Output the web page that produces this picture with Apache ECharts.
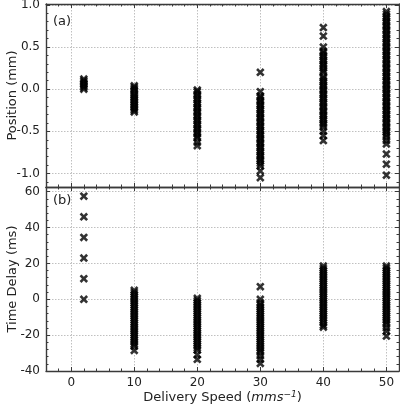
<!DOCTYPE html>
<html>
<head>
<meta charset="utf-8">
<script src="https://cdn.jsdelivr.net/npm/echarts@6/dist/echarts.min.js"></script>
<style>html,body{margin:0;padding:0;background:#fff}#c{width:400px;height:408px}</style>
</head>
<body>
<div id="c"></div>
<script>
// ---- data ----
const speeds = [2, 10, 20, 30, 40, 50];
// Position (mm), panel (a)
const pos2  = [0.0, 0.02, 0.04, 0.06, 0.08, 0.10, 0.12];
const pos10 = [0.04, 0.02, 0.0, -0.02, -0.05, -0.07, -0.09, -0.11, -0.13, -0.15, -0.17, -0.19, -0.21, -0.23, -0.25, -0.27];
const pos20 = [-0.01, -0.03, -0.06, -0.08, -0.11, -0.13, -0.16, -0.18, -0.21, -0.23, -0.26, -0.28, -0.31, -0.33, -0.36, -0.38, -0.41, -0.43, -0.46, -0.48, -0.51, -0.53, -0.56, -0.58, -0.63, -0.67];
const pos30 = [0.20, -0.03, -0.08, -0.10, -0.13, -0.15, -0.18, -0.20, -0.23, -0.25, -0.28, -0.30, -0.33, -0.35, -0.38, -0.40, -0.43, -0.45, -0.48, -0.50, -0.53, -0.55, -0.58, -0.60, -0.63, -0.65, -0.68, -0.70, -0.73, -0.75, -0.78, -0.80, -0.83, -0.85, -0.88, -0.91, -0.97, -1.05];
const pos40 = [0.73, 0.63, 0.50, 0.45, 0.43, 0.40, 0.38, 0.35, 0.33, 0.30, 0.28, 0.25, 0.22, 0.20, 0.15, 0.13, 0.10, 0.08, 0.05, 0.03, 0.0, -0.02, -0.05, -0.07, -0.10, -0.12, -0.15, -0.17, -0.20, -0.22, -0.25, -0.27, -0.30, -0.32, -0.35, -0.37, -0.40, -0.42, -0.45, -0.50, -0.55, -0.61];
const pos50 = [0.92, 0.89, 0.86, 0.84, 0.81, 0.79, 0.76, 0.74, 0.71, 0.69, 0.66, 0.64, 0.61, 0.59, 0.56, 0.54, 0.51, 0.49, 0.46, 0.44, 0.41, 0.39, 0.36, 0.34, 0.31, 0.29, 0.26, 0.24, 0.21, 0.19, 0.16, 0.14, 0.11, 0.09, 0.06, 0.04, 0.01, -0.01, -0.04, -0.06, -0.09, -0.11, -0.14, -0.16, -0.19, -0.21, -0.24, -0.26, -0.29, -0.31, -0.34, -0.36, -0.39, -0.41, -0.44, -0.46, -0.49, -0.51, -0.54, -0.57, -0.61, -0.65, -0.77, -0.89, -1.02];
// Time delay (ms), panel (b)
const td2  = [0, 11.5, 23, 34.5, 46, 57.5];
const td10 = [5, 3.8, 2.6, 1.4, 0.2, -1, -2.2, -3.4, -4.6, -5.8, -7, -8.2, -9.4, -10.6, -11.8, -13, -14.2, -15.4, -16.6, -17.8, -19, -20.2, -21.4, -22.6, -23.8, -25, -26.2, -28.5];
const td20 = [0.5, -0.7, -1.9, -3.1, -4.3, -5.5, -6.7, -7.9, -9.1, -10.3, -11.5, -12.7, -13.9, -15.1, -16.3, -17.5, -18.7, -19.9, -21.1, -22.3, -23.5, -24.7, -25.9, -27.1, -28.3, -31, -33.5];
const td30 = [7, 0, -2, -3.2, -4.4, -5.6, -6.8, -8, -9.2, -10.4, -11.6, -12.8, -14, -15.2, -16.4, -17.6, -18.8, -20, -21.2, -22.4, -23.6, -24.8, -26, -27.2, -28.4, -29.6, -31.5, -33.5, -35.8];
const td40 = [18.5, 17.2, 16, 14.8, 13.6, 12.4, 11.2, 10, 8.8, 7.6, 6.4, 5.2, 4, 2.8, 1.6, 0.4, -0.8, -2, -3.2, -4.4, -5.6, -6.8, -8, -9.2, -10.4, -11.6, -13, -14.5, -15.6];
const td50 = [18.5, 17.3, 16.1, 14.9, 13.7, 12.5, 11.3, 10.1, 8.9, 7.7, 6.5, 5.3, 4.1, 2.9, 1.7, 0.5, -0.7, -1.9, -3.1, -4.3, -5.5, -6.7, -7.9, -9.1, -10.3, -11.5, -12.7, -14, -16, -17.8, -20.5];

// ---- ticks ----
const xTicks = [0, 10, 20, 30, 40, 50];
const xMinorTicks = [-4, -2, 2, 4, 6, 8, 12, 14, 16, 18, 22, 24, 26, 28, 32, 34, 36, 38, 42, 44, 46, 48, 52];
const posTicks = [-1.0, -0.5, 0.0, 0.5, 1.0];
const posMinorTicks = [-1.1, -0.9, -0.8, -0.7, -0.6, -0.4, -0.3, -0.2, -0.1, 0.1, 0.2, 0.3, 0.4, 0.6, 0.7, 0.8, 0.9];
const tdTicks = [-40, -20, 0, 20, 40, 60];
const tdMinorTicks = [-36, -32, -28, -24, -16, -12, -8, -4, 4, 8, 12, 16, 24, 28, 32, 36, 44, 48, 52, 56];

const posCols = [pos2, pos10, pos20, pos30, pos40, pos50];
const tdCols = [td2, td10, td20, td30, td40, td50];

// ---- chart ----
const FONT = 'DejaVu Sans';
const AX = '#3a3a3a';
const X_RANGE = [-4, 52], POS_RANGE = [-1.16, 1.01], TD_RANGE = [-40, 62.6];
const rectTop = {left: 46, top: 4, width: 353, height: 183};
const rectBot = {left: 46, top: 187, width: 353, height: 184};

function pts(cols) {
  const out = [];
  cols.forEach((arr, i) => arr.forEach(v => out.push([speeds[i], v])));
  return out;
}
function axis(grid, position, range, ticks, len, line, extra) {
  return Object.assign({
    type: 'value', gridIndex: grid, position: position,
    min: range[0], max: range[1],
    axisLine: {show: line, onZero: false, lineStyle: {color: AX, width: 1.4}},
    axisTick: {show: true, inside: true, length: len, customValues: ticks, lineStyle: {color: AX, width: 1}},
    axisLabel: {show: false},
    splitLine: {show: false},
    minorTick: {show: false}
  }, extra || {});
}
const grid = {lineStyle: {color: '#b0b0b0', type: [1.5, 1.5], width: 0.8}};
const labelStyle = (ticks, fmtFn) => ({show: true, customValues: ticks, color: '#222', fontFamily: FONT, fontSize: 12, margin: 6, formatter: fmtFn});

const xAxis = [
  axis(0, 'bottom', X_RANGE, xTicks, 4, true, {splitLine: Object.assign({show: true}, grid)}),
  axis(0, 'top', X_RANGE, xTicks, 4, true),
  axis(1, 'bottom', X_RANGE, xTicks, 4, true, {
    splitLine: Object.assign({show: true}, grid),
    axisLabel: labelStyle(xTicks, v => String(v)),
    name: 'Delivery Speed ({i|mms}{s|−1})', nameLocation: 'middle', nameGap: 19, nameMoveOverlap: false,
    nameTextStyle: {color: '#222', fontFamily: FONT, fontSize: 13,
      rich: {i: {fontStyle: 'italic', fontFamily: FONT, fontSize: 13, color: '#222'},
             s: {fontStyle: 'italic', fontFamily: FONT, fontSize: 9, color: '#222', padding: [0, 0, 7, 0]}}}
  }),
  axis(1, 'top', X_RANGE, xTicks, 4, true),
  axis(2, 'bottom', X_RANGE, xMinorTicks, 2.5, false),
  axis(2, 'top', X_RANGE, xMinorTicks, 2.5, false),
  axis(3, 'bottom', X_RANGE, xMinorTicks, 2.5, false),
  axis(3, 'top', X_RANGE, xMinorTicks, 2.5, false)
];
const yAxis = [
  axis(0, 'left', POS_RANGE, posTicks, 4, true, {
    splitLine: Object.assign({show: true}, grid),
    axisLabel: labelStyle(posTicks, v => Number(v).toFixed(1)),
    name: 'Position (mm)', nameLocation: 'middle', nameGap: 27, nameMoveOverlap: false,
    nameTextStyle: {color: '#222', fontFamily: FONT, fontSize: 13}
  }),
  axis(0, 'right', POS_RANGE, posTicks, 4, true),
  axis(1, 'left', TD_RANGE, tdTicks, 4, true, {
    splitLine: Object.assign({show: true}, grid),
    axisLabel: labelStyle(tdTicks, v => String(v)),
    name: 'Time Delay (ms)', nameLocation: 'middle', nameGap: 27, nameMoveOverlap: false,
    nameTextStyle: {color: '#222', fontFamily: FONT, fontSize: 13}
  }),
  axis(1, 'right', TD_RANGE, tdTicks, 4, true),
  axis(2, 'left', POS_RANGE, posMinorTicks, 2.5, false),
  axis(2, 'right', POS_RANGE, posMinorTicks, 2.5, false),
  axis(3, 'left', TD_RANGE, tdMinorTicks, 2.5, false),
  axis(3, 'right', TD_RANGE, tdMinorTicks, 2.5, false)
];

const XSYM = 'path://M2.2,0 L5,2.8 L7.8,0 L10,2.2 L7.2,5 L10,7.8 L7.8,10 L5,7.2 L2.2,10 L0,7.8 L2.8,5 L0,2.2 Z';
const sc = (xi, yi, data) => ({
  type: 'scatter', xAxisIndex: xi, yAxisIndex: yi, data: data,
  symbol: XSYM, symbolSize: 8.5, itemStyle: {color: '#000'}, silent: true
});

const chart = echarts.init(document.getElementById('c'), null, {renderer: 'canvas'});
chart.setOption({
  animation: false,
  backgroundColor: '#fff',
  grid: [rectTop, rectBot, rectTop, rectBot].map(r => Object.assign({containLabel: false, outerBoundsMode: 'none'}, r)),
  xAxis: xAxis, yAxis: yAxis,
  graphic: [
    {type: 'text', left: 53, top: 15, style: {text: '(a)', font: '13px "DejaVu Sans"', fill: '#222'}},
    {type: 'text', left: 53, top: 194, style: {text: '(b)', font: '13px "DejaVu Sans"', fill: '#222'}}
  ],
  series: [sc(0, 0, pts(posCols)), sc(2, 2, pts(tdCols))]
});
</script>
</body>
</html>
